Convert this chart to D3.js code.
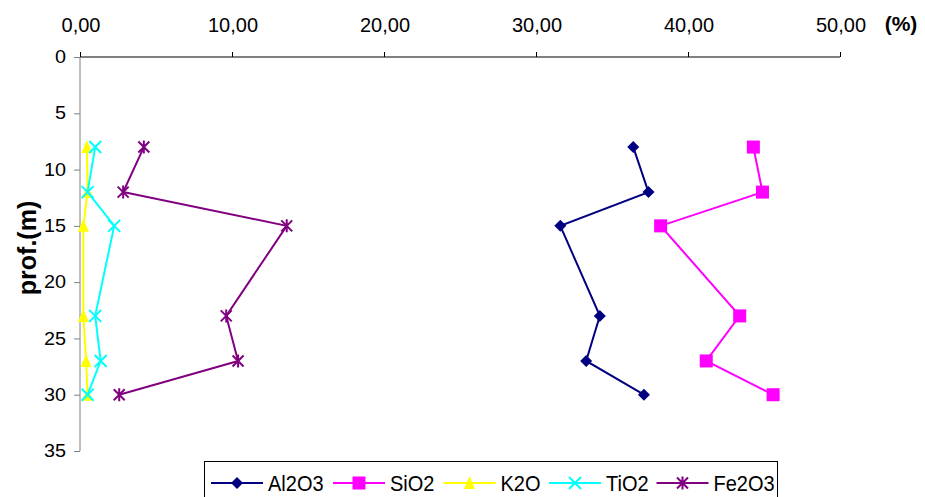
<!DOCTYPE html>
<html>
<head>
<meta charset="utf-8">
<script src="https://cdn.jsdelivr.net/npm/d3@7"></script>
<style>
  html, body { margin: 0; padding: 0; background: #fff; }
  svg text { font-family: "Liberation Sans", Arial, sans-serif; fill: #000; }
</style>
</head>
<body>
<svg id="chart" width="925" height="497"></svg>
<script>
// Depth of each sample (m)
const depths = [8, 12, 15, 23, 27, 30];

// Oxide contents (%) at each depth
const al2o3 = [36.4, 37.4, 31.6, 34.2, 33.3, 37.1];
const sio2  = [44.3, 44.9, 38.2, 43.4, 41.2, 45.6];
const k2o   = [0.45, 0.5, 0.22, 0.22, 0.4, 0.5];
const tio2  = [1.0, 0.5, 2.25, 1.0, 1.36, 0.5];
const fe2o3 = [4.2, 2.84, 13.6, 9.62, 10.4, 2.58];

const seriesNames = ["Al2O3", "SiO2", "K2O", "TiO2", "Fe2O3"];
const xTicks = [0, 10, 20, 30, 40, 50];
const yTicks = [0, 5, 10, 15, 20, 25, 30, 35];

const series = [
  { name: seriesNames[0], values: al2o3, color: "#000080", marker: "diamond" },
  { name: seriesNames[1], values: sio2,  color: "#FF00FF", marker: "square" },
  { name: seriesNames[2], values: k2o,   color: "#FFFF00", marker: "triangle" },
  { name: seriesNames[3], values: tio2,  color: "#00FFFF", marker: "x" },
  { name: seriesNames[4], values: fe2o3, color: "#800080", marker: "star" }
];

const svg = d3.select("#chart");
const plotL = 80, plotR = 840, plotT = 57, plotB = 451;

const x = d3.scaleLinear().domain([0, 50]).range([plotL, plotR]);
const y = d3.scaleLinear().domain([0, 35]).range([plotT, plotB]);

function label(g, tx, ty, str, opts) {
  const sx = opts.sx || 1, sy = opts.sy || 1;
  const t = g.append("text")
    .attr("transform", `translate(${tx},${ty}) scale(${sx},${sy})`)
    .attr("font-size", opts.size)
    .attr("text-anchor", opts.anchor || "start")
    .attr("dominant-baseline", "central")
    .text(str);
  if (opts.bold) t.attr("font-weight", "bold");
  return t;
}

// Top value axis
const fmt = v => v.toFixed(2).replace(".", ",");
const xAxis = svg.append("g")
  .attr("transform", `translate(0,${plotT})`)
  .call(d3.axisTop(x).tickValues(xTicks).tickSize(5).tickFormat(""));
xAxis.select(".domain").attr("stroke", "#000").attr("d", `M${plotL},0H${plotR}`);
xAxis.selectAll(".tick line").attr("stroke", "#000");
xTicks.forEach(v => label(svg, x(v) + 1, 24, fmt(v), { size: 20, sy: 1.05, anchor: "middle" }));
label(svg, 901, 23, "(%)", { size: 21, anchor: "middle", bold: true });

// Left depth axis
const yAxis = svg.append("g")
  .attr("transform", `translate(${plotL},0)`)
  .call(d3.axisLeft(y).tickValues(yTicks).tickSize(6).tickFormat(""));
yAxis.select(".domain").attr("stroke", "#808080").attr("d", `M0,${plotT}V${plotB}`);
yAxis.selectAll(".tick line").attr("stroke", "#808080");
yTicks.forEach(v => label(svg, 66, y(v), String(v), { size: 18, sx: 1.1, anchor: "end" }));

svg.append("text")
  .attr("transform", `translate(27,248) rotate(-90)`)
  .attr("font-size", 25)
  .attr("font-weight", "bold")
  .attr("text-anchor", "middle")
  .attr("dominant-baseline", "central")
  .text("prof.(m)");

// Marker drawing
function drawMarker(g, kind, color, cx, cy) {
  const m = g.append("g").attr("transform", `translate(${cx},${cy})`);
  if (kind === "diamond") {
    m.append("path").attr("d", "M0,-6L6,0L0,6L-6,0Z").attr("fill", color);
  } else if (kind === "square") {
    m.append("rect").attr("x", -6.5).attr("y", -6.5).attr("width", 13).attr("height", 13).attr("fill", color);
  } else if (kind === "triangle") {
    m.append("path").attr("d", "M0,-7L5.5,6L-5.5,6Z").attr("fill", color);
  } else if (kind === "x") {
    m.append("path").attr("d", "M-6,-6L6,6M-6,6L6,-6").attr("stroke", color).attr("stroke-width", 2).attr("fill", "none");
  } else if (kind === "star") {
    m.append("path").attr("d", "M-5.5,-5.5L5.5,5.5M-5.5,5.5L5.5,-5.5M0,-6.5V6.5").attr("stroke", color).attr("stroke-width", 2).attr("fill", "none");
  }
}

// Profiles
const line = d3.line().x(d => x(d.v)).y(d => y(d.d));
series.forEach(s => {
  const pts = s.values.map((v, i) => ({ v, d: depths[i] }));
  const g = svg.append("g");
  g.append("path").datum(pts)
    .attr("d", line)
    .attr("fill", "none")
    .attr("stroke", s.color)
    .attr("stroke-width", 2);
  pts.forEach(p => drawMarker(g, s.marker, s.color, x(p.v), y(p.d)));
});

// Legend
const legend = svg.append("g");
legend.append("rect")
  .attr("x", 204.5).attr("y", 461.5).attr("width", 573).attr("height", 45)
  .attr("fill", "#fff").attr("stroke", "#000").attr("stroke-width", 1);
const legendX = [211, 333, 443.5, 549, 656.5];
series.forEach((s, i) => {
  const lx = legendX[i], ly = 483;
  legend.append("line")
    .attr("x1", lx).attr("x2", lx + 52).attr("y1", ly).attr("y2", ly)
    .attr("stroke", s.color).attr("stroke-width", 2);
  drawMarker(legend, s.marker, s.color, lx + 26, ly);
  label(legend, lx + 57, ly, s.name, { size: 20, sy: 1.1 });
});
</script>
</body>
</html>
